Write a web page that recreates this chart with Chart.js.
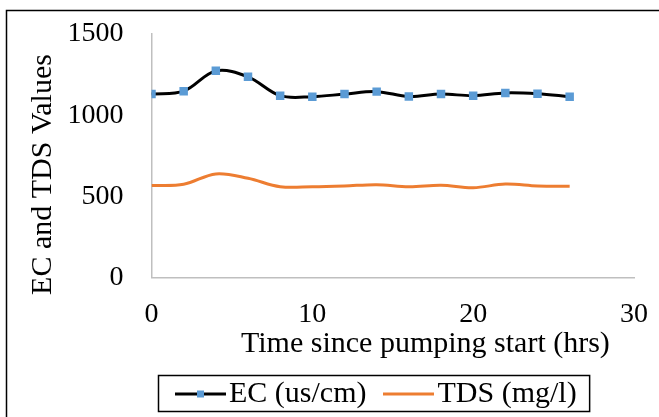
<!DOCTYPE html>
<html>
<head>
<meta charset="utf-8">
<script src="https://cdn.jsdelivr.net/npm/chart.js@4"></script>
<style>
  html, body { margin: 0; padding: 0; background: #fff; }
  #wrap { width: 659px; height: 417px; }
</style>
</head>
<body>
<div id="wrap"><canvas id="chart" width="659" height="417"></canvas></div>
<script>
// Pumping test readings
const hours = [0, 2, 4, 6, 8, 10, 12, 14, 16, 18, 20, 22, 24, 26];
const ecValues = [1130, 1148, 1273, 1236, 1120, 1114, 1130, 1145, 1115, 1130, 1120, 1137, 1132, 1114];
const tdsValues = [566, 574, 638, 611, 559, 559, 564, 572, 559, 568, 553, 576, 564, 562];
const xTicks = [0, 10, 20, 30];
const yTicks = [0, 500, 1000, 1500];
const seriesLabels = ['EC (us/cm)', 'TDS (mg/l)'];
const xTitle = 'Time since pumping start (hrs)';
const yTitle = 'EC and TDS Values';

const FONT = '"Liberation Serif", "Times New Roman", serif';
const EC_LINE = '#000000';
const EC_MARK = '#5B9BD5';
const TDS_LINE = '#ED7D31';

Chart.defaults.font.family = FONT;
Chart.defaults.color = '#000';

// legend swatches: short line, optional square marker in the middle
function makeSwatch(lineColor, markColor) {
    const c = document.createElement('canvas');
    c.width = 51;
    c.height = 11;
    const g = c.getContext('2d');
    g.strokeStyle = lineColor;
    g.lineWidth = 3;
    g.beginPath();
    g.moveTo(0, 5.5);
    g.lineTo(51, 5.5);
    g.stroke();
    if (markColor) {
        g.fillStyle = markColor;
        g.fillRect(22, 2, 7, 7);
    }
    return c;
}
const swatches = [makeSwatch(EC_LINE, EC_MARK), makeSwatch(TDS_LINE, null)];

// thin frame along the top and left edges
const framePlugin = {
    id: 'frame',
    beforeDraw(chart) {
        const ctx = chart.ctx;
        ctx.save();
        ctx.strokeStyle = '#000';
        ctx.lineWidth = 1.5;
        ctx.beginPath();
        ctx.moveTo(6.5, chart.height);
        ctx.lineTo(6.5, 10.5);
        ctx.lineTo(chart.width, 10.5);
        ctx.stroke();
        ctx.restore();
    }
};

// axis titles sit a bit off-centre, so they are drawn by hand
const titlePlugin = {
    id: 'axisTitles',
    afterDraw(chart) {
        const ctx = chart.ctx;
        ctx.save();
        ctx.fillStyle = '#000';
        ctx.font = '30px ' + FONT;
        ctx.textBaseline = 'middle';
        ctx.textAlign = 'left';
        ctx.fillText(xTitle, 241, 344);
        ctx.translate(43, 174.5);
        ctx.rotate(-Math.PI / 2);
        ctx.textAlign = 'center';
        ctx.fillText(yTitle, 0, 0);
        ctx.restore();
    }
};

// move the legend under the plot and box it
const legendBoxPlugin = {
    id: 'legendBox',
    afterLayout(chart) {
        const lg = chart.legend;
        lg.left = 158;
        lg.right = chart.width;
        lg.top = 350;
        lg.bottom = lg.top + lg.height;
    },
    afterDraw(chart) {
        const lg = chart.legend;
        const boxes = lg.legendHitBoxes;
        if (!boxes.length) return;
        const last = boxes[boxes.length - 1];
        const ctx = chart.ctx;
        ctx.save();
        ctx.strokeStyle = '#000';
        ctx.lineWidth = 1.5;
        ctx.strokeRect(158.5, 375.5, last.left + last.width + 13 - 158.5, 36);
        ctx.restore();
    }
};

const axisBorder = { display: true, color: '#bfbfbf', width: 1.5 };

// layout padding already leaves room for the tick labels
function dropLabelPadding(scale) {
    scale.paddingTop = 0;
    scale.paddingBottom = 0;
    scale.paddingLeft = 0;
    scale.paddingRight = 0;
}

new Chart(document.getElementById('chart'), {
    type: 'line',
    data: {
        datasets: [
            {
                label: seriesLabels[0],
                data: hours.map((h, i) => ({ x: h, y: ecValues[i] })),
                borderColor: EC_LINE,
                borderWidth: 3,
                tension: 0.35,
                pointStyle: 'rect',
                pointRadius: 6,
                pointBorderWidth: 0,
                pointBackgroundColor: EC_MARK,
                pointBorderColor: EC_MARK
            },
            {
                label: seriesLabels[1],
                data: hours.map((h, i) => ({ x: h, y: tdsValues[i] })),
                borderColor: TDS_LINE,
                borderWidth: 3,
                tension: 0.35,
                pointRadius: 0
            }
        ]
    },
    options: {
        responsive: false,
        animation: false,
        devicePixelRatio: 1,
        layout: { padding: { top: 34, right: 25, left: 0, bottom: 0 } },
        scales: {
            x: {
                type: 'linear',
                min: xTicks[0],
                max: xTicks[xTicks.length - 1],
                grid: { display: false, drawTicks: false },
                border: axisBorder,
                ticks: {
                    stepSize: xTicks[1] - xTicks[0],
                    padding: 20,
                    maxRotation: 0,
                    font: { size: 28 },
                    color: '#000',
                    callback: v => String(v)
                },
                afterFit(scale) {
                    scale.height = 70.5;
                    dropLabelPadding(scale);
                }
            },
            y: {
                min: yTicks[0],
                max: yTicks[yTicks.length - 1],
                grid: { display: false, drawTicks: false },
                border: axisBorder,
                ticks: {
                    stepSize: yTicks[1] - yTicks[0],
                    padding: 28,
                    font: { size: 28 },
                    color: '#000',
                    callback: v => String(v)
                },
                afterFit(scale) {
                    scale.width = 151.5;
                    dropLabelPadding(scale);
                }
            }
        },
        plugins: {
            legend: {
                position: 'bottom',
                align: 'start',
                labels: {
                    usePointStyle: true,
                    pointStyleWidth: 27,
                    padding: 29,
                    color: '#000',
                    font: { size: 30 },
                    generateLabels(chart) {
                        return chart.data.datasets.map((ds, i) => ({
                            text: ds.label,
                            pointStyle: swatches[i],
                            fillStyle: ds.borderColor,
                            strokeStyle: ds.borderColor,
                            lineWidth: 0,
                            hidden: false,
                            datasetIndex: i,
                            fontColor: '#000'
                        }));
                    }
                }
            },
            tooltip: { enabled: false }
        }
    },
    plugins: [framePlugin, titlePlugin, legendBoxPlugin]
});
</script>
</body>
</html>
